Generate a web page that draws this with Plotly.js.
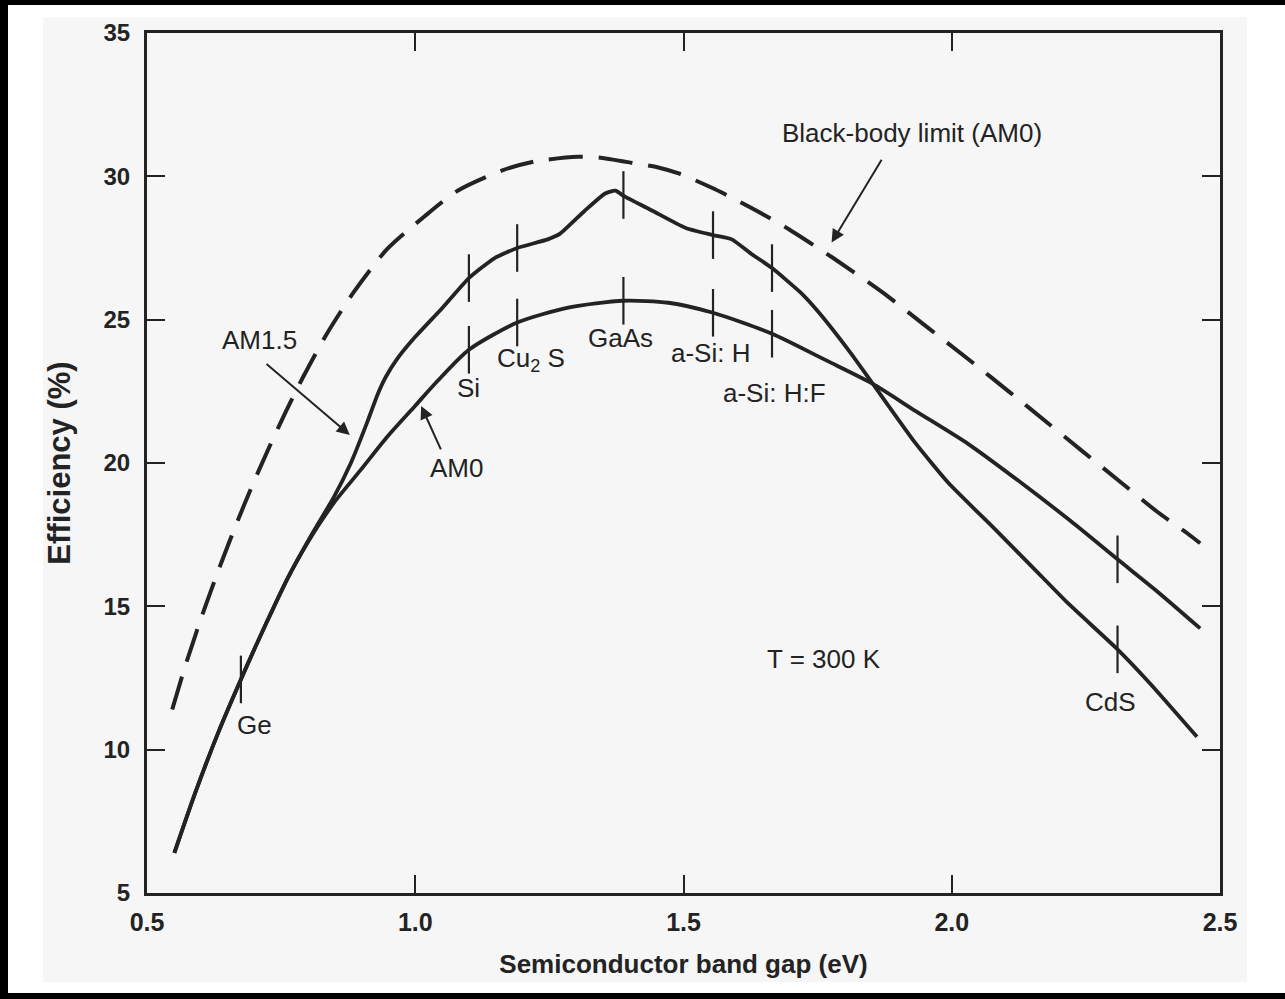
<!DOCTYPE html>
<html>
<head>
<meta charset="utf-8">
<script src="https://cdn.plot.ly/plotly-3.0.1.min.js"></script>
<style>
  html, body { margin: 0; padding: 0; background: #ffffff; }
  #wrap { position: relative; width: 1285px; height: 999px; overflow: hidden; }
  .band { position: absolute; background: #000; }
  #paper { position: absolute; left: 43px; top: 17px; width: 1204px; height: 965px; background: #f6f6f6; }
  #chart { position: absolute; left: 0; top: 0; width: 1285px; height: 999px; }
</style>
</head>
<body>
<div id="wrap">
  <div class="band" style="left:0;top:0;width:1285px;height:5px;"></div>
  <div class="band" style="left:0;top:0;width:8px;height:999px;"></div>
  <div class="band" style="left:0;top:993px;width:1285px;height:6px;"></div>
  <div id="paper"></div>
  <div id="chart"></div>
</div>
<script>
// ---- Data (band gap in eV, efficiency in %) ----
const bbX = [0.547, 0.571, 0.603, 0.635, 0.665, 0.697, 0.729, 0.759, 0.791, 0.835, 0.885, 0.947,
             1.017, 1.079, 1.161, 1.223, 1.303, 1.341, 1.410, 1.453, 1.491, 1.553, 1.601, 1.638,
             1.688, 1.779, 1.871, 1.950, 2.031, 2.106, 2.180, 2.241, 2.315, 2.383, 2.439, 2.463];
const bbY = [11.4, 12.9, 14.7, 16.35, 17.8, 19.25, 20.6, 21.8, 23.0, 24.5, 25.95, 27.45,
             28.6, 29.5, 30.2, 30.52, 30.68, 30.66, 30.45, 30.31, 30.1, 29.6, 29.15, 28.78,
             28.25, 27.15, 25.95, 24.8, 23.62, 22.5, 21.38, 20.45, 19.33, 18.3, 17.55, 17.2];

const am15X = [0.551, 0.590, 0.635, 0.675, 0.700, 0.722, 0.760, 0.810, 0.848, 0.880, 0.910, 0.930,
               0.945, 0.965, 1.000, 1.050, 1.100, 1.148, 1.190, 1.247, 1.270, 1.316, 1.354, 1.373,
               1.390, 1.442, 1.504, 1.555, 1.590, 1.626, 1.665, 1.718, 1.750, 1.811, 1.853, 1.932,
               1.994, 2.080, 2.154, 2.217, 2.309, 2.370, 2.457];
const am15Y = [6.4, 8.5, 10.7, 12.45, 13.5, 14.4, 15.9, 17.6, 18.8, 20.0, 21.4, 22.4,
               23.0, 23.6, 24.4, 25.4, 26.45, 27.15, 27.5, 27.8, 28.0, 28.8, 29.4, 29.5,
               29.3, 28.8, 28.2, 27.95, 27.8, 27.3, 26.8, 25.95, 25.3, 23.85, 22.76, 20.7,
               19.3, 17.7, 16.3, 15.1, 13.5, 12.3, 10.45];

const am0X = [0.551, 0.590, 0.635, 0.675, 0.700, 0.722, 0.760, 0.797, 0.848, 0.898, 0.947, 1.000,
              1.041, 1.100, 1.190, 1.285, 1.388, 1.472, 1.555, 1.665, 1.767, 1.853, 1.932, 2.031,
              2.130, 2.220, 2.309, 2.383, 2.463];
const am0Y = [6.4, 8.5, 10.7, 12.45, 13.5, 14.4, 15.9, 17.15, 18.6, 19.75, 20.9, 22.0,
              22.85, 23.95, 24.9, 25.42, 25.66, 25.59, 25.24, 24.51, 23.57, 22.76, 21.82, 20.66,
              19.3, 18.0, 16.64, 15.52, 14.23];

// material marks on the curves
const am15TickX = [1.100, 1.190, 1.388, 1.555, 1.665, 2.309];
const am15TickY = [26.45, 27.5, 29.35, 27.95, 26.8, 13.5];
const am0TickX  = [0.675, 1.100, 1.190, 1.388, 1.555, 1.665, 2.309];
const am0TickY  = [12.45, 23.95, 24.9, 25.66, 25.24, 24.51, 16.64];

const xTickVals = [0.5, 1.0, 1.5, 2.0, 2.5];
const xTickText = ['0.5', '1.0', '1.5', '2.0', '2.5'];
const yTickVals = [5, 10, 15, 20, 25, 30, 35];

// labels: [text, x, y]
const textLabels = [
  ['Ge', 0.701, 10.87],
  ['Si', 1.099, 22.6],
  ['Cu<sub>2</sub> S', 1.215, 23.6],
  ['GaAs', 1.382, 24.37],
  ['a-Si: H', 1.55, 23.85],
  ['a-Si: H:F', 1.669, 22.45],
  ['CdS', 2.296, 11.68],
  ['T = 300 K', 1.761, 13.18],
  ['Black-body limit (AM0)', 1.926, 31.5],
  ['AM1.5', 0.709, 24.3],
  ['AM0', 1.077, 19.83]
];
// arrows: [headX, headY, tailX, tailY]
const arrows = [
  [1.776, 27.69, 1.871, 30.63],
  [0.878, 20.98, 0.720, 23.5],
  [1.011, 21.99, 1.049, 20.42]
];

// ---- Styling ----
const ink = '#232323';
const FONT = 'Liberation Sans, Arial, Helvetica, sans-serif';

const traces = [
  { x: bbX, y: bbY, type: 'scatter', mode: 'lines', name: 'Black-body limit (AM0)',
    line: { color: ink, width: 4, dash: '34px,16px', shape: 'spline', smoothing: 0.7 }, hoverinfo: 'skip' },
  { x: am15X, y: am15Y, type: 'scatter', mode: 'lines', name: 'AM1.5',
    line: { color: ink, width: 3.8, shape: 'spline', smoothing: 0.5 }, hoverinfo: 'skip' },
  { x: am0X, y: am0Y, type: 'scatter', mode: 'lines', name: 'AM0',
    line: { color: ink, width: 3.8, shape: 'spline', smoothing: 0.7 }, hoverinfo: 'skip' },
  { x: am15TickX, y: am15TickY, type: 'scatter', mode: 'markers', name: 'AM1.5 marks',
    marker: { symbol: 'line-ns', size: 34, color: ink, line: { color: ink, width: 2.2 } }, hoverinfo: 'skip' },
  { x: am0TickX, y: am0TickY, type: 'scatter', mode: 'markers', name: 'AM0 marks',
    marker: { symbol: 'line-ns', size: 34, color: ink, line: { color: ink, width: 2.2 } }, hoverinfo: 'skip' }
];

const annotations = [];
textLabels.forEach(l => annotations.push({
  text: l[0], x: l[1], y: l[2], xref: 'x', yref: 'y', showarrow: false,
  font: { family: FONT, size: 26, color: ink }
}));
arrows.forEach(a => annotations.push({
  text: '', x: a[0], y: a[1], ax: a[2], ay: a[3], xref: 'x', yref: 'y', axref: 'x', ayref: 'y',
  showarrow: true, arrowhead: 2, arrowsize: 1.3, arrowwidth: 2, arrowcolor: ink
}));

const layout = {
  width: 1285, height: 999,
  margin: { l: 147, r: 65, t: 33, b: 106 },
  paper_bgcolor: 'rgba(0,0,0,0)',
  plot_bgcolor: 'rgba(0,0,0,0)',
  showlegend: false,
  font: { family: FONT, color: ink },
  xaxis: {
    range: [0.5, 2.5], tickvals: xTickVals, ticktext: xTickText,
    ticks: 'inside', ticklen: 18, tickwidth: 2, tickcolor: ink,
    showline: true, linecolor: ink, linewidth: 3, mirror: 'ticks',
    showgrid: false, zeroline: false,
    tickfont: { family: FONT, size: 25, color: ink, weight: 'bold' },
    ticklabelstandoff: 5,
    title: { text: 'Semiconductor band gap (eV)', font: { family: FONT, size: 26, color: ink, weight: 'bold' }, standoff: 20 }
  },
  yaxis: {
    range: [5, 35], tickvals: yTickVals,
    ticks: 'inside', ticklen: 18, tickwidth: 2, tickcolor: ink,
    showline: true, linecolor: ink, linewidth: 3, mirror: 'ticks',
    showgrid: false, zeroline: false,
    tickfont: { family: FONT, size: 24, color: ink, weight: 'bold' },
    ticklabelstandoff: 9,
    title: { text: 'Efficiency (%)', font: { family: FONT, size: 31, color: ink, weight: 'bold' }, standoff: 24 }
  },
  annotations: annotations
};

Plotly.newPlot('chart', traces, layout, { displayModeBar: false, staticPlot: true });
</script>
</body>
</html>
